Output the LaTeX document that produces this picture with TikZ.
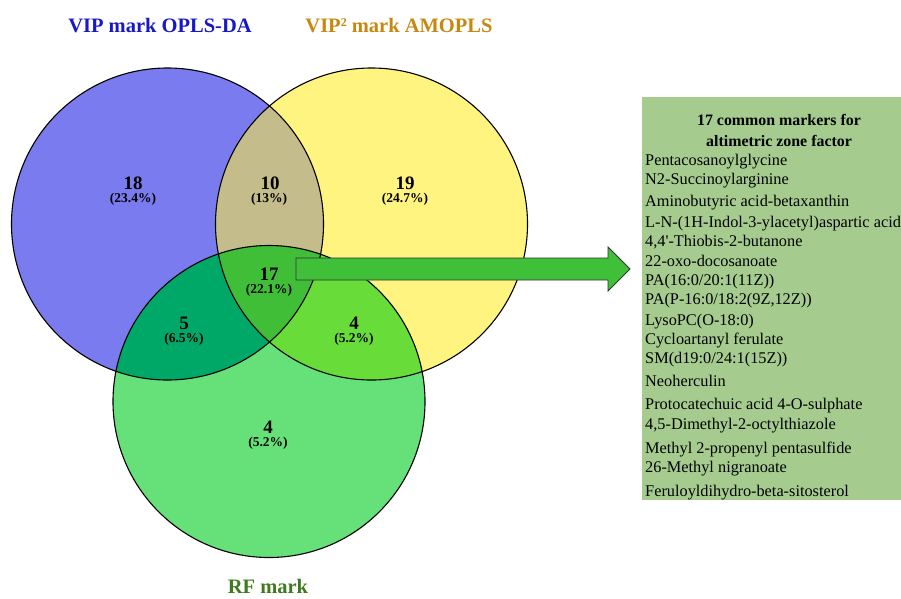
\documentclass[tikz,border=0pt]{standalone}
\usepackage{fontspec}
\setmainfont{Liberation Serif}
\begin{document}
\begin{tikzpicture}[x=1pt,y=-1pt,
  num/.style={font=\fontsize{19}{19}\bfseries\selectfont, inner sep=0pt},
  pct/.style={font=\fontsize{13.5}{14}\bfseries\selectfont, inner sep=0pt},
  ttl/.style={font=\fontsize{20.5}{22}\bfseries\selectfont, inner sep=0pt, anchor=base},
  item/.style={font=\fontsize{16.3}{19}\selectfont, inner sep=0pt, anchor=base west},
  head/.style={font=\fontsize{15.9}{18}\bfseries\selectfont, inner sep=0pt, anchor=base},
  outline/.style={draw=black, line width=1.1pt}]
\definecolor{cblue}{RGB}{123,123,240}
\definecolor{cyel}{RGB}{255,244,128}
\definecolor{cgrn}{RGB}{102,224,120}
\definecolor{cby}{RGB}{196,188,138}
\definecolor{cbg}{RGB}{0,168,104}
\definecolor{cyg}{RGB}{104,220,56}
\definecolor{cmid}{RGB}{64,190,56}
\definecolor{carrow}{RGB}{64,192,56}
\definecolor{cbox}{RGB}{165,204,142}
\definecolor{tblue}{RGB}{24,24,200}
\definecolor{tgold}{RGB}{200,135,15}
\definecolor{tgreen}{RGB}{63,122,31}
\useasboundingbox (0,0) rectangle (901,598);
\def\circA{(167.5,224) circle[radius=156pt]}
\def\circB{(371.5,224) circle[radius=156pt]}
\def\circC{(269,401.5) circle[radius=156pt]}
% base fills
\fill[cblue] \circA;
\fill[cyel] \circB;
\fill[cgrn] \circC;
\begin{scope}\clip \circA; \fill[cby] \circB; \end{scope}
\begin{scope}\clip \circA; \fill[cbg] \circC; \end{scope}
\begin{scope}\clip \circB; \fill[cyg] \circC; \end{scope}
\begin{scope}\clip \circA; \clip \circB; \fill[cmid] \circC; \end{scope}
\draw[outline] \circA;
\draw[outline] \circB;
\draw[outline] \circC;
% titles
\node[ttl, text=tblue] (tA) at (160,32) {VIP mark OPLS-DA};
\node[ttl, text=tgold] (tB) at (399,32) {VIP\raisebox{5.5pt}{\fontsize{12}{12}\selectfont 2} mark AMOPLS};
\node[ttl, text=tgreen] (tC) at (268,593) {RF mark};
% region labels
\node[num] (n18) at (133,183) {18};
\node[pct] (p18) at (133,199) {(23.4\%)};
\node[num] (n10) at (270,183) {10};
\node[pct] (p10) at (269,199) {(13\%)};
\node[num] (n19) at (405,183) {19};
\node[pct] (p19) at (405,199) {(24.7\%)};
\node[num] (n17) at (269,274) {17};
\node[pct] (p17) at (269,290) {(22.1\%)};
\node[num] (n5) at (184,323) {5};
\node[pct] (p5) at (184,339) {(6.5\%)};
\node[num] (n4a) at (354,323) {4};
\node[pct] (p4a) at (354,339) {(5.2\%)};
\node[num] (n4b) at (268,427) {4};
\node[pct] (p4b) at (268,443) {(5.2\%)};
% box
\node[fill=cbox, minimum width=259pt, minimum height=403pt, anchor=north west, inner sep=0pt] (box) at (642,97) {};
% arrow
\draw[fill=carrow, draw=black!80, line width=0.8pt]
  (296,258) -- (608,258) -- (608,247) -- (630,269) -- (608,291) -- (608,280) -- (296,280) -- cycle;
% box text
\node[head] (h1) at (779,125) {17 common markers for};
\node[head] (h2) at (779,146) {altimetric zone factor};
\node[item] (i1) at (645,165) {Pentacosanoylglycine};
\node[item] (i2) at (645,184) {N2-Succinoylarginine};
\node[item] (i3) at (645,206) {Aminobutyric acid-betaxanthin};
\node[item] (i4) at (645,227) {L-N-(1H-Indol-3-ylacetyl)aspartic acid};
\node[item] (i5) at (645,246) {4,4\textquotesingle-Thiobis-2-butanone};
\node[item] (i6) at (645,266) {22-oxo-docosanoate};
\node[item] (i7) at (645,285) {PA(16:0/20:1(11Z))};
\node[item] (i8) at (645,304) {PA(P-16:0/18:2(9Z,12Z))};
\node[item] (i9) at (645,325) {LysoPC(O-18:0)};
\node[item] (i10) at (645,344) {Cycloartanyl ferulate};
\node[item] (i11) at (645,363) {SM(d19:0/24:1(15Z))};
\node[item] (i12) at (645,386) {Neoherculin};
\node[item] (i13) at (645,409) {Protocatechuic acid 4-O-sulphate};
\node[item] (i14) at (645,429) {4,5-Dimethyl-2-octylthiazole};
\node[item] (i15) at (645,453) {Methyl 2-propenyl pentasulfide};
\node[item] (i16) at (645,472) {26-Methyl nigranoate};
\node[item] (i17) at (645,496) {Feruloyldihydro-beta-sitosterol};
\end{tikzpicture}
\end{document}
